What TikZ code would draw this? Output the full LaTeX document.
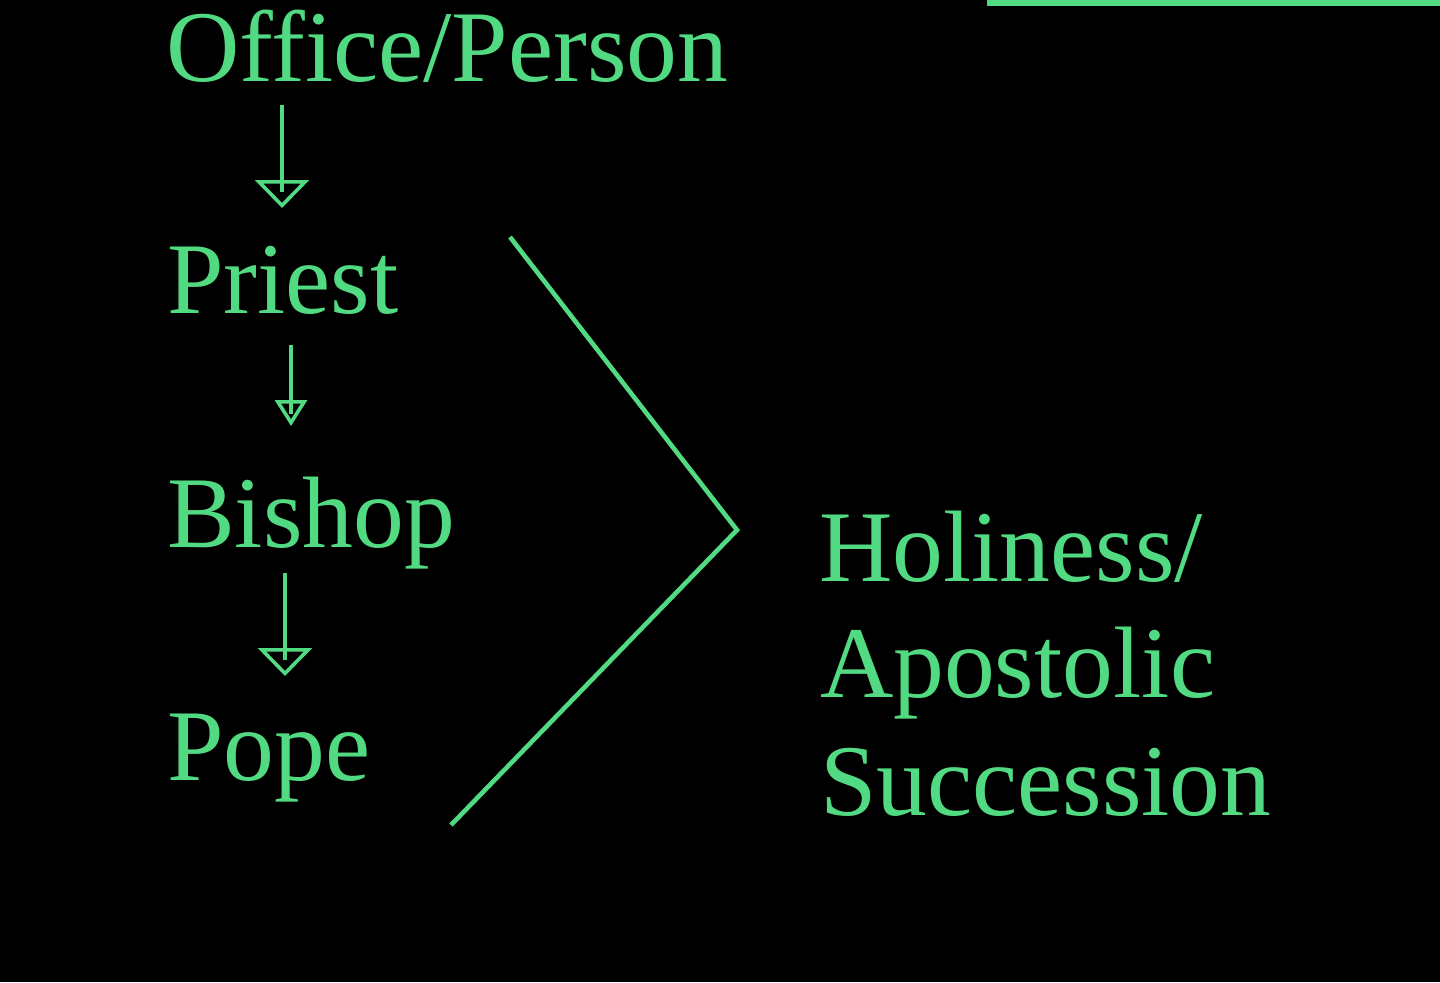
\documentclass[tikz,border=0pt]{standalone}
\usepackage{fontspec}
\setmainfont{Liberation Serif}
\usetikzlibrary{arrows.meta}
\definecolor{lgreen}{RGB}{82,218,130}
\begin{document}
\begin{tikzpicture}[x=0.5pt,y=-0.5pt,
  lbl/.style={anchor=base west,inner sep=0pt,outer sep=0pt,text=lgreen,font=\fontsize{50.8}{60}\selectfont},
  shaft/.style={draw=lgreen,line width=1.8pt},
  bigtip/.style={draw=lgreen,line width=1.8pt,-{Triangle[open,length=14pt,width=27pt,line width=1.8pt]}},
  smalltip/.style={draw=lgreen,line width=1.8pt,-{Triangle[open,length=13pt,width=16pt,line width=1.8pt]}},
  chev/.style={draw=lgreen,line width=2.3pt,line join=miter}]
\useasboundingbox (0,0) rectangle (1440,982);
\fill[black] (0,0) rectangle (1440,982);
% top-right rule
\coordinate (r1) at (987,2.5);
\coordinate (r2) at (1440,2.5);
\draw[draw=lgreen,line width=3pt] (r1) -- (r2);
% labels
\node[lbl] (office) at (166,81) {Office/Person};
\node[lbl] (priest) at (167,313) {Priest};
\node[lbl] (bishop) at (167,547) {Bishop};
\node[lbl] (pope) at (167,780) {Pope};
\node[lbl] (holy) at (819,581) {Holiness/};
\node[lbl] (apost) at (820,697) {Apostolic};
\node[lbl] (succ) at (820,815) {Succession};
% arrows
\coordinate (a1s) at (282,105); \coordinate (a1e) at (282,208);
\coordinate (a2s) at (291,345); \coordinate (a2e) at (291,426);
\coordinate (a3s) at (285,573); \coordinate (a3e) at (285,676);
\draw[shaft,shorten >=8pt] (a1s) -- (a1e);
\draw[bigtip] (a1s) -- (a1e);
\draw[shaft,shorten >=6pt] (a2s) -- (a2e);
\draw[smalltip] (a2s) -- (a2e);
\draw[shaft,shorten >=8pt] (a3s) -- (a3e);
\draw[bigtip] (a3s) -- (a3e);
% chevron
\coordinate (c1) at (510,237);
\coordinate (c2) at (737,530);
\coordinate (c3) at (451,825);
\draw[chev] (c1) -- (c2) -- (c3);
\end{tikzpicture}
\end{document}
